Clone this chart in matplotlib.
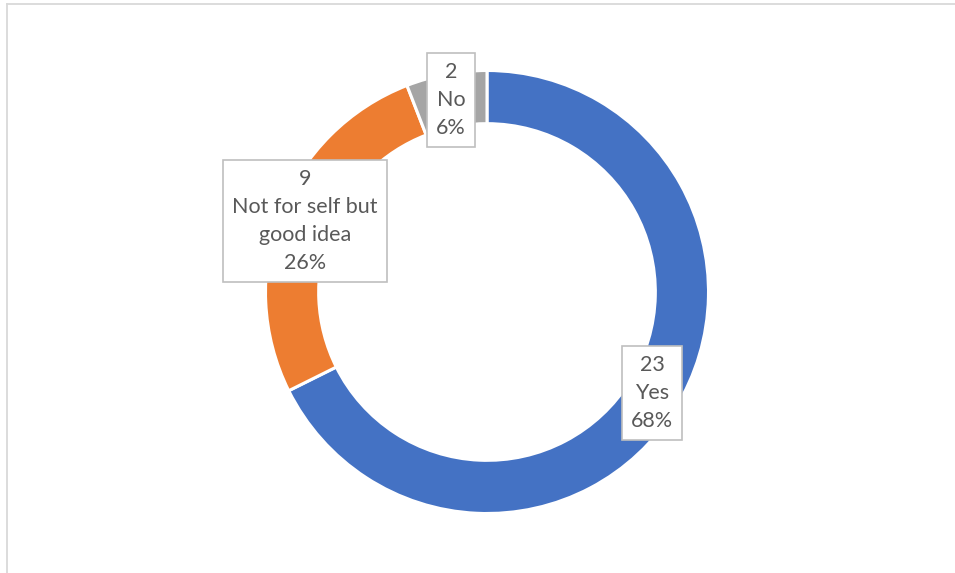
import matplotlib
matplotlib.use("Agg")
import matplotlib.pyplot as plt
from matplotlib.lines import Line2D

categories = ["Yes", "Not for self but good idea", "No"]
counts = [23, 9, 2]
label_names = ["Yes", "Not for self but\ngood idea", "No"]
colors = ["#4472C4", "#ED7D31", "#A5A5A5"]

W, H = 955, 573
fig = plt.figure(figsize=(W / 100, H / 100), dpi=100)
fig.patch.set_facecolor("white")

# outer frame (left and top visible)
fig.add_artist(Line2D([6.5 / W, 6.5 / W], [0, 1 - 3.5 / H], transform=fig.transFigure,
                      color="#D9D9D9", lw=1.3))
fig.add_artist(Line2D([6.5 / W, 1], [1 - 3.5 / H, 1 - 3.5 / H], transform=fig.transFigure,
                      color="#D9D9D9", lw=1.3))

cx, cy, R = 487, 292, 221.5
ax = fig.add_axes([(cx - R) / W, (H - cy - R) / H, 2 * R / W, 2 * R / H])

ax.pie(counts, colors=colors, startangle=90, counterclock=False, radius=1.0,
       wedgeprops=dict(width=0.24, edgecolor="white", linewidth=2.2))
ax.set_xlim(-1, 1)
ax.set_ylim(-1, 1)
ax.set_aspect("equal")
ax.axis("off")

total = sum(counts)

def px2data(px, py):
    return (px - cx) / R, (cy - py) / R

label_px = [(652, 393), (305, 221), (451, 100)]
for name, c, (px, py) in zip(label_names, counts, label_px):
    pct = round(100 * c / total)
    txt = f"{c}\n{name}\n{pct}%"
    x, y = px2data(px, py)
    ax.text(x, y, txt, ha="center", va="center", fontsize=15.5, color="#595959",
            family="Lato", linespacing=1.5, multialignment="center", clip_on=False,
            bbox=dict(boxstyle="square,pad=0.42", facecolor="white", edgecolor="#BFBFBF",
                      linewidth=1.2))

fig.savefig("out.png", dpi=100, facecolor="white")
